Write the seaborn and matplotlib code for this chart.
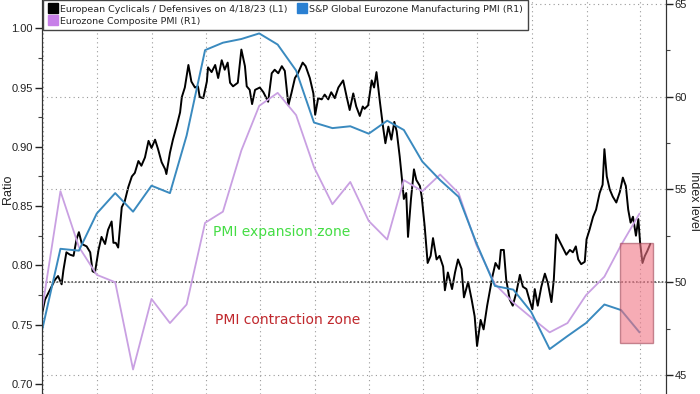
import pandas as pd
import seaborn as sns
import matplotlib.pyplot as plt
import matplotlib.dates as mdates
import matplotlib.ticker as mticker
from matplotlib.lines import Line2D
from matplotlib.patches import Rectangle

# ratio series: days after 2020-06-30, value
start = pd.Timestamp('2020-06-30')
ratio_day = [0, 5, 11, 16, 22, 27, 33, 36, 41, 47,
             53, 58, 62, 67, 75, 81, 85, 89, 95, 100,
             106, 111, 117, 120, 124, 128, 134, 139, 145, 151,
             156, 162, 167, 173, 179, 184, 190, 195, 201, 207,
             209, 215, 220, 226, 232, 235, 240, 246, 251, 257,
             262, 265, 271, 277, 279, 285, 291, 296, 302, 307,
             312, 316, 321, 329, 335, 341, 344, 349, 353, 358,
             366, 372, 380, 386, 391, 397, 403, 408, 414, 419,
             425, 430, 438, 443, 450, 456, 459, 464, 470, 475,
             481, 486, 492, 498, 506, 512, 517, 523, 528, 534,
             539, 542, 548, 554, 558, 562, 568, 573, 577, 582,
             587, 592, 596, 601, 605, 608, 612, 615, 620, 625,
             629, 635, 638, 643, 648, 653, 657, 663, 668, 674,
             677, 682, 689, 694, 699, 705, 709, 716, 722, 727,
             731, 737, 742, 748, 752, 757, 762, 768, 771, 776,
             780, 786, 791, 797, 803, 808, 814, 819, 824, 828,
             833, 839, 845, 850, 856, 860, 864, 870, 875, 881,
             887, 892, 897, 901, 906, 912, 915, 920, 926, 931,
             937, 942, 945, 949, 954, 959, 965, 971, 976, 981,
             985, 989, 993, 998, 1002, 1005, 1009, 1013, 1017, 1022]
ratio_val = [0.759, 0.771, 0.777, 0.782, 0.788, 0.791, 0.784, 0.796, 0.811, 0.809,
             0.808, 0.822, 0.828, 0.818, 0.816, 0.811, 0.795, 0.794, 0.813, 0.824,
             0.818, 0.830, 0.837, 0.819, 0.819, 0.815, 0.849, 0.854, 0.866, 0.875,
             0.878, 0.888, 0.884, 0.891, 0.905, 0.899, 0.906, 0.898, 0.887, 0.881,
             0.877, 0.895, 0.906, 0.917, 0.929, 0.942, 0.950, 0.969, 0.955, 0.950,
             0.951, 0.942, 0.941, 0.955, 0.967, 0.963, 0.969, 0.958, 0.973, 0.965,
             0.971, 0.954, 0.951, 0.954, 0.982, 0.968, 0.951, 0.948, 0.936, 0.948,
             0.950, 0.946, 0.938, 0.962, 0.965, 0.962, 0.968, 0.964, 0.935, 0.945,
             0.958, 0.962, 0.971, 0.968, 0.958, 0.945, 0.927, 0.941, 0.940, 0.944,
             0.940, 0.946, 0.941, 0.950, 0.956, 0.942, 0.931, 0.945, 0.934, 0.926,
             0.934, 0.932, 0.935, 0.956, 0.950, 0.963, 0.937, 0.917, 0.903, 0.917,
             0.906, 0.921, 0.913, 0.892, 0.872, 0.856, 0.861, 0.824, 0.856, 0.881,
             0.872, 0.867, 0.858, 0.833, 0.802, 0.808, 0.823, 0.805, 0.808, 0.799,
             0.779, 0.794, 0.780, 0.794, 0.805, 0.797, 0.773, 0.786, 0.771, 0.757,
             0.732, 0.754, 0.746, 0.766, 0.777, 0.791, 0.802, 0.797, 0.813, 0.813,
             0.788, 0.771, 0.766, 0.777, 0.792, 0.782, 0.780, 0.771, 0.763, 0.780,
             0.766, 0.782, 0.793, 0.785, 0.769, 0.788, 0.826, 0.820, 0.815, 0.809,
             0.813, 0.811, 0.816, 0.805, 0.801, 0.803, 0.822, 0.830, 0.841, 0.847,
             0.861, 0.868, 0.898, 0.875, 0.864, 0.858, 0.853, 0.862, 0.874, 0.867,
             0.847, 0.836, 0.841, 0.825, 0.839, 0.819, 0.802, 0.808, 0.812, 0.818]

# monthly PMIs, Jun 2020 .. Mar 2023 (month end)
pmi_dates = pd.date_range('2020-07-01', periods=34, freq='MS') - pd.Timedelta(days=1)
mfg_pmi = [47.4, 51.8, 51.7, 53.7, 54.8, 53.8, 55.2, 54.8, 57.9, 62.5,
           62.9, 63.1, 63.4, 62.8, 61.4, 58.6, 58.3, 58.4, 58.0, 58.7,
           58.2, 56.5, 55.5, 54.6, 52.1, 49.8, 49.6, 48.4, 46.4, 47.1,
           47.8, 48.8, 48.5, 47.3]
comp_pmi = [48.5, 54.9, 51.9, 50.4, 50.0, 45.3, 49.1, 47.8, 48.8, 53.2,
            53.8, 57.1, 59.5, 60.2, 59.0, 56.2, 54.2, 55.4, 53.3, 52.3,
            55.5, 54.9, 55.8, 54.8, 52.0, 49.9, 48.9, 48.1, 47.3, 47.8,
            49.3, 50.3, 52.0, 53.7]

labels = ['European Cyclicals / Defensives on 4/18/23 (L1)',
          'Eurozone Composite PMI (R1)',
          'S&P Global Eurozone Manufacturing PMI (R1)']

df_ratio = pd.DataFrame({'date': start + pd.to_timedelta(ratio_day, unit='D'), 'ratio': ratio_val})
df_pmi = pd.DataFrame({'date': pmi_dates, 'mfg': mfg_pmi, 'comp': comp_pmi})

sns.set_style('white')
plt.rcParams['font.family'] = ['DejaVu Sans']

fig = plt.figure(figsize=(7, 3.94), dpi=100)
ax = fig.add_axes([0.06, 0.0, 0.891, 1.0])
ax2 = ax.twinx()

sns.lineplot(data=df_ratio, x='date', y='ratio', ax=ax, color='black', lw=1.4)
sns.lineplot(data=df_pmi, x='date', y='comp', ax=ax2, color='#c9a0e2', lw=1.3)
sns.lineplot(data=df_pmi, x='date', y='mfg', ax=ax2, color='#3a8abf', lw=1.4)

ax.set_xlim(start, start + pd.Timedelta(days=1048))
ax.set_ylim(0.6915, 1.0238)
ax2.set_ylim(43.98, 65.2)

# quarterly vertical grid, no date labels
ax.xaxis.set_major_locator(mdates.MonthLocator(bymonth=[1, 4, 7, 10]))
ax.tick_params(axis='x', length=0, labelbottom=False)
ax.grid(axis='x', color='#999999', ls=(0, (1, 3)), lw=0.8)
ax.grid(axis='y', visible=False)
ax.set_xlabel('')

ax.yaxis.set_major_locator(mticker.MultipleLocator(0.05))
ax.yaxis.set_minor_locator(mticker.MultipleLocator(0.025))
ax.yaxis.set_major_formatter(mticker.FormatStrFormatter('%.2f'))
ax.tick_params(axis='y', which='major', direction='out', length=5, width=1, colors='#222222',
               labelsize=8, left=True, pad=1.5)
ax.tick_params(axis='y', which='minor', direction='out', length=3, width=0.8, colors='#444444', left=True)
ax.set_ylabel('Ratio', fontsize=9, color='#222222', family='Liberation Sans', va='center')
ax.yaxis.set_label_coords(-0.054, 0.52)
for lab in ax.get_yticklabels():
    lab.set_family('Liberation Sans')

ax2.yaxis.set_major_locator(mticker.MultipleLocator(5))
ax2.yaxis.set_minor_locator(mticker.MultipleLocator(2.5))
ax2.tick_params(axis='y', which='major', direction='out', length=5, width=1, colors='#222222',
                labelsize=8, right=True, pad=1.5)
ax2.tick_params(axis='y', which='minor', direction='out', length=3, width=0.8, colors='#444444', right=True)
for lab in ax2.get_yticklabels():
    lab.set_family('Liberation Sans')
ax2.set_ylabel('Index level', fontsize=9, color='#222222', family='Liberation Sans',
               rotation=-90, va='center')
ax2.yaxis.set_label_coords(1.046, 0.49)
ax2.grid(axis='y', color='#999999', ls=(0, (1, 3)), lw=0.8)
ax2.grid(axis='x', visible=False)
ax2.axhline(50, color='#555555', ls=(0, (1, 1.2)), lw=1.2, zorder=1)

for a in (ax, ax2):
    a.spines['top'].set_visible(False)
    a.spines['bottom'].set_visible(False)
    a.spines['left'].set_color('#333333')
    a.spines['right'].set_color('#333333')

ax2.text(pd.Timestamp('2021-04-13'), 52.7, 'PMI expansion zone', color='#44dd44',
         fontsize=10, va='center', ha='left')
ax2.text(pd.Timestamp('2021-04-16'), 47.95, 'PMI contraction zone', color='#c0282d',
         fontsize=10, va='center', ha='left')

box_x0 = mdates.date2num(pd.Timestamp('2023-02-26'))
box_x1 = mdates.date2num(pd.Timestamp('2023-04-23'))
ax2.add_patch(Rectangle((box_x0, 46.7), box_x1 - box_x0, 5.4, facecolor='#f07585',
                        edgecolor='#a04858', lw=1, alpha=0.6, zorder=5))

handles = [Line2D([], [], marker='s', ls='none', markersize=7, color=c)
           for c in ['black', '#c77fe8', '#2a80d2']]
leg = ax2.legend(handles, labels, loc='upper left', bbox_to_anchor=(0.002, 1.0), ncol=2,
                 fontsize=6.8, frameon=True, fancybox=False, framealpha=1,
                 edgecolor='#444444', borderaxespad=0, borderpad=0.5,
                 handletextpad=0.3, columnspacing=1.0, labelspacing=0.3, handlelength=1)
leg.get_frame().set_linewidth(1.0)
leg.set_zorder(10)

fig.savefig('out.png', dpi=100)
